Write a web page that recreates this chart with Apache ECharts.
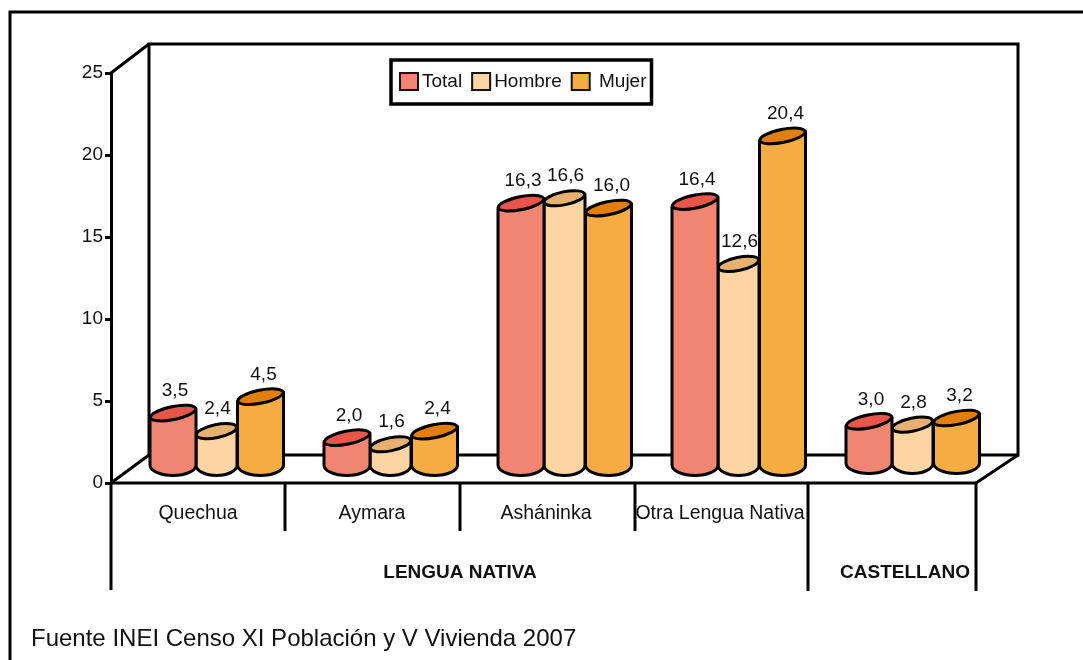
<!DOCTYPE html>
<html>
<head>
<meta charset="utf-8">
<script src="https://cdn.jsdelivr.net/npm/echarts@6/dist/echarts.min.js"></script>
<style>html,body{margin:0;padding:0;background:#fff}#c{width:1083px;height:660px}</style>
</head>
<body>
<div id="c"></div>
<script>
const categories = ['Quechua', 'Aymara', 'Asháninka', 'Otra Lengua Nativa', ''];
const total = [3.5, 2.0, 16.3, 16.4, 3.0];
const hombre = [2.4, 1.6, 16.6, 12.6, 2.8];
const mujer = [4.5, 2.4, 16.0, 20.4, 3.2];
const seriesNames = ['Total', 'Hombre', 'Mujer'];
const groupLabels = ['LENGUA NATIVA', 'CASTELLANO'];
const source = 'Fuente INEI Censo XI Población y V Vivienda 2007';

const bodyColors = ['#F08672', '#FCD5A2', '#F5AC42'];
const topColors = ['#E8554A', '#E6B071', '#E17F0A'];
const shifts = [-25, 18.5, 62.5];
const radii = [23, 20.5, 23];
const labelShift = [2, 1, 3];
const FONT = '"Liberation Sans", Arial, sans-serif';
const INK = '#000';

function renderCylinder(si) {
  return function (params, api) {
    const i = api.value(0), v = api.value(1);
    const p = api.coord([i, v]);
    const b = api.coord([i, 0]);
    const cx = p[0] + shifts[si];
    const rx = radii[si];
    const cy = p[1] - 12.5;
    const base = b[1] - (i === 4 ? 20 : 18);
    const tilt = rx * 0.2;
    const ry = 6.5;
    const path = `M${cx - rx} ${cy + tilt} L${cx - rx} ${base} A${rx} 10.5 0 0 0 ${cx + rx} ${base} L${cx + rx} ${cy - tilt} Z`;
    return {
      type: 'group',
      children: [
        { type: 'path', shape: { pathData: path },
          style: { fill: bodyColors[si], stroke: INK, lineWidth: 3, lineJoin: 'round' } },
        { type: 'ellipse', shape: { cx: 0, cy: 0, rx: rx, ry: ry }, x: cx, y: cy, rotation: 0.2,
          style: { fill: topColors[si], stroke: INK, lineWidth: 3 } },
        { type: 'text', x: cx + labelShift[si], y: cy - 22,
          style: { text: v.toFixed(1).replace('.', ','), fill: '#111', font: '19px ' + FONT, textAlign: 'center', textVerticalAlign: 'middle' } }
      ]
    };
  };
}

function seg(x1, y1, x2, y2, w) {
  return { type: 'line', shape: { x1, y1, x2, y2 }, z: 0, style: { stroke: INK, lineWidth: w || 3 } };
}
function label(text, x, y, font, align) {
  return { type: 'text', x, y, z: 1, style: { text, fill: '#111', font, textAlign: align || 'center', textVerticalAlign: 'middle' } };
}

const chart = echarts.init(document.getElementById('c'), null, { renderer: 'canvas' });
chart.setOption({
  animation: false,
  backgroundColor: '#fff',
  grid: { left: 111, top: 73, width: 870, height: 410 },
  xAxis: {
    type: 'category', data: categories,
    axisLine: { show: false }, axisTick: { show: false },
    axisLabel: { color: '#111', fontFamily: FONT, fontSize: 19.5, margin: 21, interval: 0 }
  },
  yAxis: {
    type: 'value', min: 0, max: 25, interval: 5,
    splitLine: { show: false },
    axisLine: { show: true, lineStyle: { color: INK, width: 3 } },
    axisTick: { show: true, length: 6, lineStyle: { color: INK, width: 3 } },
    axisLabel: { color: '#111', fontFamily: FONT, fontSize: 19, margin: 8, padding: [3, 0, 0, 0] }
  },
  legend: {
    data: seriesNames, left: 391, top: 60, orient: 'horizontal',
    backgroundColor: '#fff', borderColor: INK, borderWidth: 3.5, borderRadius: 0,
    padding: [12, 5, 13, 8], itemGap: 9, itemWidth: 18, itemHeight: 17, icon: 'rect',
    itemStyle: { borderColor: '#111', borderWidth: 2 },
    formatter: name => (name === 'Mujer' ? ' ' + name : name),
    textStyle: { color: '#111', fontFamily: FONT, fontSize: 19, padding: [4, 0, 0, -1] },
    selectedMode: false
  },
  graphic: { elements: [
    { type: 'polyline', shape: { points: [[10, 660], [10, 12], [1083, 12]] }, z: 0, style: { fill: 'none', stroke: INK, lineWidth: 3 } },
    { type: 'polyline', shape: { points: [[149, 455], [149, 44], [1018, 44], [1018, 455], [149, 455]] }, z: 0, style: { fill: '#fff', stroke: INK, lineWidth: 3 } },
    seg(111, 73, 149, 44), seg(111, 483, 149, 455), seg(976, 483, 1018, 455),
    seg(111, 483, 976, 483),
    seg(111, 483, 111, 590), seg(285, 483, 285, 531), seg(460, 483, 460, 531), seg(635, 483, 635, 531),
    seg(808, 483, 808, 591), seg(976, 483, 976, 591),
    label(groupLabels[0], 460, 573, 'bold 19px ' + FONT),
    label(groupLabels[1], 905, 573, 'bold 19px ' + FONT),
    label(source, 31, 639, '24px ' + FONT, 'left')
  ] },
  series: [total, hombre, mujer].map((vals, si) => ({
    type: 'custom', name: seriesNames[si], coordinateSystem: 'cartesian2d',
    z: si === 1 ? 2 : 3,
    itemStyle: { color: bodyColors[si] },
    encode: { x: 0, y: 1 },
    renderItem: renderCylinder(si),
    data: vals.map((v, i) => [i, v])
  }))
});
</script>
</body>
</html>
